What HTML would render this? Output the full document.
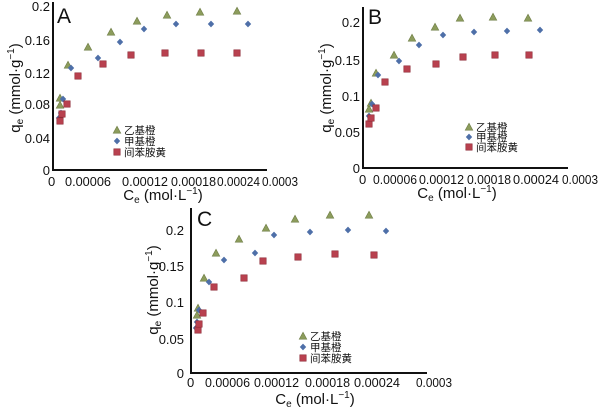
<!DOCTYPE html>
<html><head><meta charset="utf-8"><style>
html,body{margin:0;padding:0;background:#fff;}
svg{display:block;font-family:"Liberation Sans","Noto Sans CJK SC",sans-serif;}
.t{font-size:13px;fill:#111;}
.ax{stroke:#111;stroke-width:2;fill:none;}
.lg{font-size:10.5px;fill:#111;}
.ti{font-size:15px;fill:#111;}
</style></head><body>
<svg width="600" height="409" viewBox="0 0 600 409">
<defs>
<g id="tri"><polygon points="0,-3.8 3.8,3.2 -3.8,3.2" fill="#8c9c5c" stroke="#6e7d45" stroke-width="0.6"/></g>
<g id="dia"><polygon points="0,-3.4 3.2,0 0,3.4 -3.2,0" fill="#4e6fa8"/></g>
<g id="sq"><rect x="-3.2" y="-3.2" width="6.4" height="6.4" fill="#b8414f" stroke="#8d2a36" stroke-width="0.6"/></g>
</defs>

<!-- Panel A -->
<path class="ax" d="M53,2 V170 H267"/>
<text x="57" y="23" font-size="21" fill="#111">A</text>
<g class="t" text-anchor="end">
<text x="50" y="11">0.2</text><text x="50" y="45">0.16</text><text x="50" y="78">0.12</text>
<text x="50" y="109">0.08</text><text x="50" y="143">0.04</text><text x="50" y="175">0</text>
</g>
<g class="t">
<text x="48" y="186">0</text>
<text x="65" y="186" textLength="46" lengthAdjust="spacingAndGlyphs">0.00006</text>
<text x="122" y="186" textLength="46" lengthAdjust="spacingAndGlyphs">0.00012</text>
<text x="171" y="186" textLength="45" lengthAdjust="spacingAndGlyphs">0.00018</text>
<text x="217" y="186" textLength="43" lengthAdjust="spacingAndGlyphs">0.00024</text>
<text x="262" y="186" textLength="36" lengthAdjust="spacingAndGlyphs">0.0003</text>
</g>
<text x="163" y="200" text-anchor="middle" class="ti">C<tspan font-size="10" dy="3">e</tspan><tspan dy="-3"> (mol·L</tspan><tspan font-size="10" dy="-6">−1</tspan><tspan dy="6">)</tspan></text>
<text transform="translate(20,88) rotate(-90)" text-anchor="middle" class="ti">q<tspan font-size="10" dy="3">e</tspan><tspan dy="-3"> (mmol·g</tspan><tspan font-size="10" dy="-6">−1</tspan><tspan dy="6">)</tspan></text>
<use href="#tri" x="60" y="98"/><use href="#tri" x="60" y="105"/><use href="#tri" x="68" y="65"/><use href="#tri" x="88" y="47"/><use href="#tri" x="111" y="32"/><use href="#tri" x="137" y="21"/><use href="#tri" x="167" y="15"/><use href="#tri" x="200" y="12"/><use href="#tri" x="237" y="11"/>
<use href="#dia" x="59" y="118"/><use href="#dia" x="61" y="113"/><use href="#dia" x="63" y="99"/><use href="#dia" x="71" y="68"/><use href="#dia" x="98" y="58"/><use href="#dia" x="120" y="42"/><use href="#dia" x="144" y="29"/><use href="#dia" x="176" y="24"/><use href="#dia" x="211" y="24"/><use href="#dia" x="248" y="24"/>
<use href="#sq" x="60" y="121"/><use href="#sq" x="62" y="114"/><use href="#sq" x="67" y="104"/><use href="#sq" x="78" y="76"/><use href="#sq" x="103" y="64"/><use href="#sq" x="131" y="55"/><use href="#sq" x="165" y="53"/><use href="#sq" x="201" y="53"/><use href="#sq" x="237" y="53"/>
<use href="#tri" x="117" y="130"/><use href="#dia" x="117" y="141"/><use href="#sq" x="117" y="152"/>
<g class="lg"><text x="124" y="134">乙基橙</text><text x="124" y="145">甲基橙</text><text x="124" y="156">间苯胺黄</text></g>

<!-- Panel B -->
<path class="ax" d="M363,7 V168 H568"/>
<text x="368" y="24" font-size="21" fill="#111">B</text>
<g class="t" text-anchor="end">
<text x="360" y="27">0.2</text><text x="360" y="65">0.15</text><text x="360" y="101">0.1</text>
<text x="360" y="137">0.05</text><text x="360" y="173">0</text>
</g>
<g class="t">
<text x="359" y="184">0</text>
<text x="373" y="184" textLength="44" lengthAdjust="spacingAndGlyphs">0.00006</text>
<text x="419" y="184" textLength="45" lengthAdjust="spacingAndGlyphs">0.00012</text>
<text x="467" y="184" textLength="44" lengthAdjust="spacingAndGlyphs">0.00018</text>
<text x="513" y="184" textLength="46" lengthAdjust="spacingAndGlyphs">0.00024</text>
<text x="562" y="184" textLength="36" lengthAdjust="spacingAndGlyphs">0.0003</text>
</g>
<text x="457" y="198" text-anchor="middle" class="ti">C<tspan font-size="10" dy="3">e</tspan><tspan dy="-3"> (mol·L</tspan><tspan font-size="10" dy="-6">−1</tspan><tspan dy="6">)</tspan></text>
<text transform="translate(331,88) rotate(-90)" text-anchor="middle" class="ti">q<tspan font-size="10" dy="3">e</tspan><tspan dy="-3"> (mmol·g</tspan><tspan font-size="10" dy="-6">−1</tspan><tspan dy="6">)</tspan></text>
<use href="#tri" x="369" y="109"/><use href="#tri" x="371" y="103"/><use href="#tri" x="376" y="73"/><use href="#tri" x="394" y="55"/><use href="#tri" x="412" y="38"/><use href="#tri" x="435" y="27"/><use href="#tri" x="460" y="18"/><use href="#tri" x="493" y="17"/><use href="#tri" x="528" y="18"/>
<use href="#dia" x="369" y="116"/><use href="#dia" x="372" y="104"/><use href="#dia" x="378" y="75"/><use href="#dia" x="399" y="61"/><use href="#dia" x="419" y="45"/><use href="#dia" x="443" y="35"/><use href="#dia" x="474" y="32"/><use href="#dia" x="507" y="31"/><use href="#dia" x="540" y="30"/>
<use href="#sq" x="369" y="124"/><use href="#sq" x="371" y="118"/><use href="#sq" x="376" y="108"/><use href="#sq" x="385" y="82"/><use href="#sq" x="407" y="69"/><use href="#sq" x="436" y="64"/><use href="#sq" x="463" y="57"/><use href="#sq" x="495" y="55"/><use href="#sq" x="529" y="55"/>
<use href="#tri" x="469" y="127"/><use href="#dia" x="469" y="137"/><use href="#sq" x="469" y="147"/>
<g class="lg"><text x="476" y="131">乙基橙</text><text x="476" y="141">甲基橙</text><text x="476" y="151">间苯胺黄</text></g>

<!-- Panel C -->
<path class="ax" d="M191,208 V373 H427"/>
<text x="197" y="226" font-size="21" fill="#111">C</text>
<g class="t" text-anchor="end">
<text x="184" y="235">0.2</text><text x="184" y="271">0.15</text><text x="184" y="307">0.1</text>
<text x="184" y="344">0.05</text><text x="184" y="378">0</text>
</g>
<g class="t">
<text x="187" y="387">0</text>
<text x="205" y="387" textLength="45" lengthAdjust="spacingAndGlyphs">0.00006</text>
<text x="254" y="387" textLength="45" lengthAdjust="spacingAndGlyphs">0.00012</text>
<text x="305" y="387" textLength="45" lengthAdjust="spacingAndGlyphs">0.00018</text>
<text x="354" y="387" textLength="46" lengthAdjust="spacingAndGlyphs">0.00024</text>
<text x="416" y="387" textLength="36" lengthAdjust="spacingAndGlyphs">0.0003</text>
</g>
<text x="315" y="404" text-anchor="middle" class="ti">C<tspan font-size="10" dy="3">e</tspan><tspan dy="-3"> (mol·L</tspan><tspan font-size="10" dy="-6">−1</tspan><tspan dy="6">)</tspan></text>
<text transform="translate(158,290) rotate(-90)" text-anchor="middle" class="ti">q<tspan font-size="10" dy="3">e</tspan><tspan dy="-3"> (mmol·g</tspan><tspan font-size="10" dy="-6">−1</tspan><tspan dy="6">)</tspan></text>
<use href="#tri" x="197" y="315"/><use href="#tri" x="198" y="308"/><use href="#tri" x="204" y="278"/><use href="#tri" x="216" y="253"/><use href="#tri" x="239" y="239"/><use href="#tri" x="266" y="228"/><use href="#tri" x="295" y="219"/><use href="#tri" x="330" y="215"/><use href="#tri" x="369" y="215"/>
<use href="#dia" x="196" y="328"/><use href="#dia" x="197" y="322"/><use href="#dia" x="199" y="310"/><use href="#dia" x="209" y="282"/><use href="#dia" x="224" y="260"/><use href="#dia" x="255" y="253"/><use href="#dia" x="274" y="235"/><use href="#dia" x="310" y="232"/><use href="#dia" x="348" y="230"/><use href="#dia" x="386" y="231"/>
<use href="#sq" x="198" y="330"/><use href="#sq" x="199" y="324"/><use href="#sq" x="203" y="313"/><use href="#sq" x="214" y="287"/><use href="#sq" x="244" y="278"/><use href="#sq" x="263" y="261"/><use href="#sq" x="298" y="257"/><use href="#sq" x="335" y="254"/><use href="#sq" x="374" y="255"/>
<use href="#tri" x="303" y="336"/><use href="#dia" x="303" y="347"/><use href="#sq" x="303" y="358"/>
<g class="lg"><text x="310" y="340">乙基橙</text><text x="310" y="351">甲基橙</text><text x="310" y="362">间苯胺黄</text></g>
</svg>
</body></html>
